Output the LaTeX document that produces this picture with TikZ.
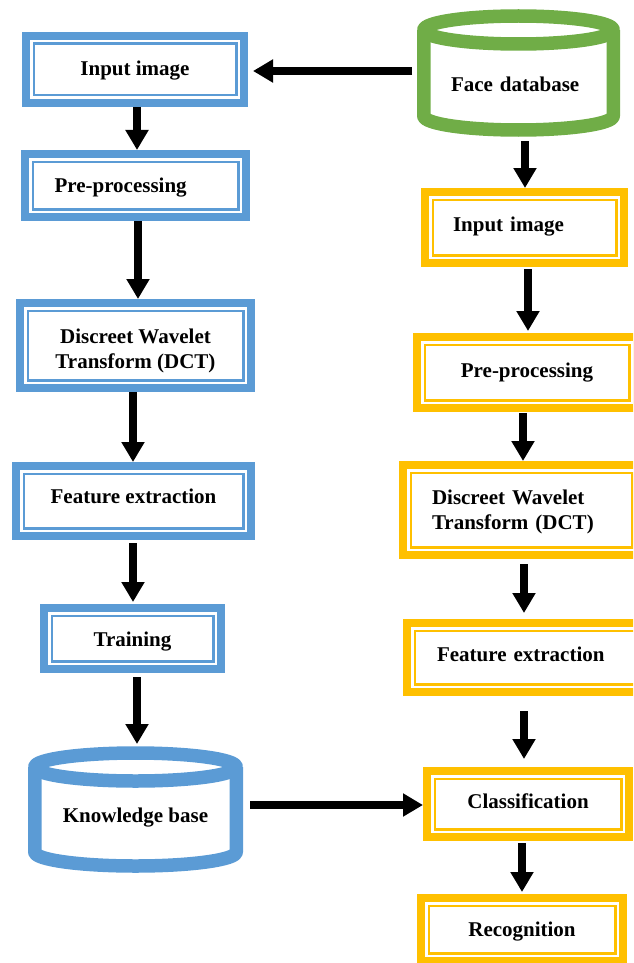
\documentclass[tikz,border=0pt]{standalone}
\usepackage{fontspec}
\setmainfont{Liberation Serif}
\usetikzlibrary{arrows.meta}
\definecolor{bblue}{HTML}{5B9BD5}
\definecolor{ggreen}{HTML}{70AD47}
\definecolor{ygold}{HTML}{FFC000}
\tikzset{
  lbl/.style={font=\fontsize{21}{25}\selectfont\bfseries, text=black},
  bx/.style={lbl, draw=#1, line width=8pt, outer sep=4pt, inner sep=0pt, align=center,
    append after command={\pgfextra{\draw[draw=#1, line width=2.5pt]
      ([shift={(11.75pt,-11.75pt)}]\tikzlastnode.north west) rectangle
      ([shift={(-11.75pt,11.75pt)}]\tikzlastnode.south east);}}},
  cylnode/.style={lbl, inner sep=0pt, outer sep=0pt},
  cyl/.style={draw=#1, line width=13.5pt, line join=round},
  arr/.style={draw=black, line width=8pt, -{Triangle[width=22pt,length=20pt]}},
}
\begin{document}
\begin{tikzpicture}[x=1pt,y=-1pt]
\useasboundingbox (0,0) rectangle (633,963);
\clip (0,0) rectangle (633,963);
% cylinders
\draw[cyl=ggreen] (518.5,30) ellipse [x radius=94.75, y radius=14];
\draw[cyl=ggreen] (423.75,30) -- (423.75,116) arc[start angle=180, end angle=0, x radius=94.75, y radius=14] -- (613.25,30);
\draw[cyl=bblue] (135.5,767) ellipse [x radius=100.75, y radius=14];
\draw[cyl=bblue] (34.75,767) -- (34.75,852) arc[start angle=180, end angle=0, x radius=100.75, y radius=14] -- (236.25,767);
\node[cylnode, minimum width=203pt, minimum height=128pt, align=left, text width=135pt, text height=38pt, text depth=0pt] (FD) at (518.5,73) {Face database};
\node[cylnode, minimum width=215pt, minimum height=127pt, align=center, text height=25pt, text depth=0pt] (KB) at (135.5,809.5) {Knowledge base};
% left column
\node[bx=bblue, minimum width=218pt, minimum height=67pt, text height=14pt, text depth=2pt] (L1) at (135,69.5) {Input image};
\node[bx=bblue, minimum width=221pt, minimum height=63pt, align=left, text width=162pt, text height=14pt, text depth=0pt] (L2) at (135.5,185.5) {Pre-processing};
\node[bx=bblue, minimum width=231pt, minimum height=85pt] (L3) at (135.5,345.5) {\rule{0pt}{25pt}Discreet Wavelet\\Transform (DCT)};
\node[bx=bblue, minimum width=235pt, minimum height=70pt, text height=14pt, text depth=8.6pt] (L4) at (133.5,501) {Feature extraction};
\node[bx=bblue, minimum width=177pt, minimum height=61pt, text height=16pt, text depth=0pt] (L5) at (132.5,638.5) {Training};
% right column
\node[bx=ygold, minimum width=199pt, minimum height=71pt, align=left, text width=143pt, text height=14pt, text depth=7pt] (R1) at (524.5,227.5) {Input image};
\node[bx=ygold, minimum width=220pt, minimum height=71pt, text height=14pt, text depth=4pt] (R2) at (527,372.5) {Pre-processing};
\node[bx=ygold, minimum width=237pt, minimum height=90pt, align=left, text width=179pt] (R3) at (521.5,510) {\rule{0pt}{19pt}Discreet Wavelet\\Transform (DCT)};
\node[bx=ygold, minimum width=237pt, minimum height=69pt, align=left, text width=177pt, text height=14pt, text depth=7pt] (R4) at (525.5,657.5) {Feature extraction};
\node[bx=ygold, minimum width=202pt, minimum height=66pt, text height=14pt, text depth=5pt] (R5) at (528,804) {Classification};
\node[bx=ygold, minimum width=202pt, minimum height=63pt, text height=14pt, text depth=0pt] (R6) at (522,929.5) {Recognition};
% arrows left
\draw[arr] (137,0 |- L1.south) -- (137,0 |- L2.north);
\draw[arr] (138,0 |- L2.south) -- (138,0 |- L3.north);
\draw[arr] (133,0 |- L3.south) -- (133,0 |- L4.north);
\draw[arr, shorten <=3pt, shorten >=2pt] (133,0 |- L4.south) -- (133,0 |- L5.north);
\draw[arr, shorten <=4pt, shorten >=2pt] (137,0 |- L5.south) -- (137,0 |- KB.north);
% horizontal arrows
\draw[arr, shorten <=7pt] (KB.east |- 0,805) -- (R5.west |- 0,805);
\draw[arr, shorten <=5pt, shorten >=5pt] (FD.west |- 0,71) -- (L1.east |- 0,71);
% arrows right
\draw[arr, shorten <=4pt] (525,0 |- FD.south) -- (525,0 |- R1.north);
\draw[arr, shorten <=2pt, shorten >=2pt] (528,0 |- R1.south) -- (528,0 |- R2.north);
\draw[arr, shorten <=1pt] (523,0 |- R2.south) -- (523,0 |- R3.north);
\draw[arr, shorten <=5pt, shorten >=6pt] (524,0 |- R3.south) -- (524,0 |- R4.north);
\draw[arr, shorten <=15pt, shorten >=8pt] (524,0 |- R4.south) -- (524,0 |- R5.north);
\draw[arr, shorten <=2pt, shorten >=2pt] (522,0 |- R5.south) -- (522,0 |- R6.north);
\end{tikzpicture}
\end{document}
